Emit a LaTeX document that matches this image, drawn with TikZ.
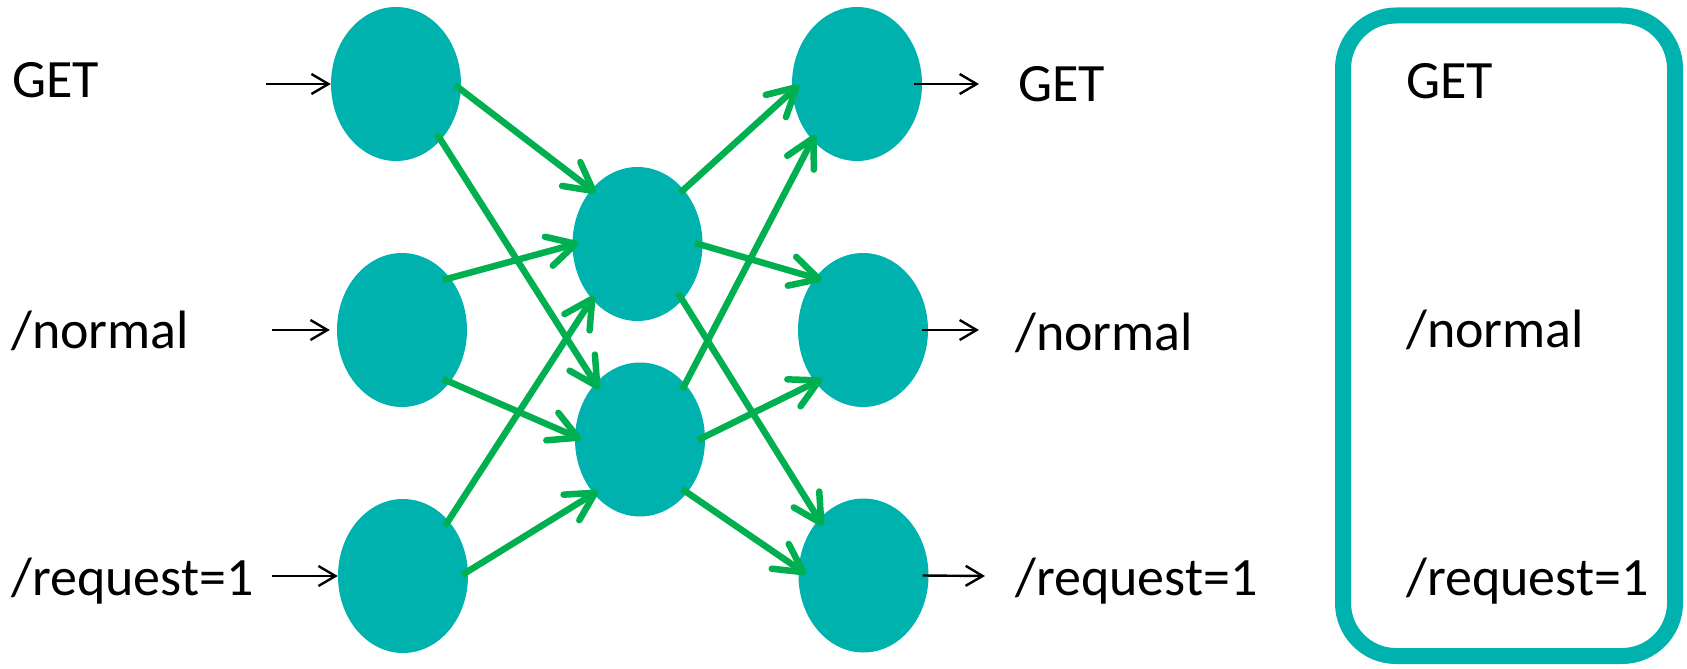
\documentclass[tikz,border=0pt]{standalone}
\usepackage{fontspec}
\setmainfont{Carlito}
\usetikzlibrary{arrows.meta,shapes.geometric}
\definecolor{nodeteal}{HTML}{00B2AE}
\definecolor{linkgreen}{HTML}{00B050}
\begin{document}
\begin{tikzpicture}[x=1pt,y=-1pt,
  neuron/.style={ellipse, fill=nodeteal, minimum width=130pt, minimum height=154pt, inner sep=0pt},
  txt/.style={anchor=base west, inner sep=0pt, font=\fontsize{54}{60}\selectfont},
  inarrow/.style={draw=black, line width=2.4pt, -{Straight Barb[length=17pt,width=20pt]}},
  greenarrow/.style={draw=linkgreen, line width=6.5pt, -{Straight Barb[length=28pt,width=30pt,round]}},
  frame/.style={draw=nodeteal, line width=16pt, rounded corners=53pt, inner sep=0pt}
]
\useasboundingbox (0,0) rectangle (1687,669);

% input layer
\node[neuron] (L1) at (396,84) {};
\node[neuron] (L2) at (402,330) {};
\node[neuron] (L3) at (403,576) {};
% hidden layer
\node[neuron] (M1) at (637.5,244) {};
\node[neuron] (M2) at (640,439.5) {};
% output layer
\node[neuron] (R1) at (857,84) {};
\node[neuron] (R2) at (863,330) {};
\node[neuron] (R3) at (863.5,575.5) {};

% request labels
\node[txt] (inGet) at (12,97) {GET};
\node[txt] (inNormal) at (11,348) {/normal};
\node[txt] (inRequest) at (11,595) {/request=1};
\node[txt] (outGet) at (1018,102) {GET};
\node[txt] (outNormal) at (1015,350) {/normal};
\node[txt] (outRequest) at (1015,595) {/request=1};

% inputs and outputs
\coordinate (srcA) at (266,84);
\coordinate (srcB) at (272,330);
\coordinate (srcC) at (272,576);
\coordinate (dstA) at (979,84);
\coordinate (dstB) at (979,330);
\coordinate (dstC) at (985,576);
\draw[inarrow] (srcA) -- (L1.west);
\draw[inarrow] (srcB) -- ([xshift=-7pt]L2.west);
\draw[inarrow] (srcC) -- (L3.west);
\draw[inarrow] ([xshift=-8pt]R1.east) -- (dstA);
\draw[inarrow] ([xshift=-6pt]R2.east) -- (dstB);
\draw[inarrow] ([xshift=-6pt]R3.east) -- (dstC);

% input -> hidden
\draw[greenarrow] ([shift={(59,1)}]L1.center) -- ([shift={(-41.5,-51)}]M1.center);
\draw[greenarrow] ([shift={(41,50)}]L1.center) -- ([shift={(-41,-50.5)}]M2.center);
\draw[greenarrow] ([shift={(41,-50)}]L2.center) -- ([shift={(-58.5,-1)}]M1.center);
\draw[greenarrow] ([shift={(41,49)}]L2.center) -- ([shift={(-59,-0.5)}]M2.center);
\draw[greenarrow] ([shift={(42,-50)}]L3.center) -- ([shift={(-43.5,52)}]M1.center);
\draw[greenarrow] ([shift={(59,-1)}]L3.center) -- ([shift={(-42,51.5)}]M2.center);
% hidden -> output
\draw[greenarrow] ([shift={(42.5,-51)}]M1.center) -- ([shift={(-58,1)}]R1.center);
\draw[greenarrow] ([shift={(57.5,-1)}]M1.center) -- ([shift={(-41,-50)}]R2.center);
\draw[greenarrow] ([shift={(40.5,49)}]M1.center) -- ([shift={(-40.5,-49.5)}]R3.center);
\draw[greenarrow] ([shift={(42,-49.5)}]M2.center) -- ([shift={(-42,51)}]R1.center);
\draw[greenarrow] ([shift={(58,0.5)}]M2.center) -- ([shift={(-41,49)}]R2.center);
\draw[greenarrow] ([shift={(42,49.5)}]M2.center) -- ([shift={(-57.5,-1.5)}]R3.center);

% summary box
\node[frame, minimum width=332pt, minimum height=640.5pt] (box) at (1509,335.75) {};
\node[txt] (boxGet) at (1406,99) {GET};
\node[txt] (boxNormal) at (1406,347) {/normal};
\node[txt] (boxRequest) at (1406,595) {/request=1};
\end{tikzpicture}
\end{document}
